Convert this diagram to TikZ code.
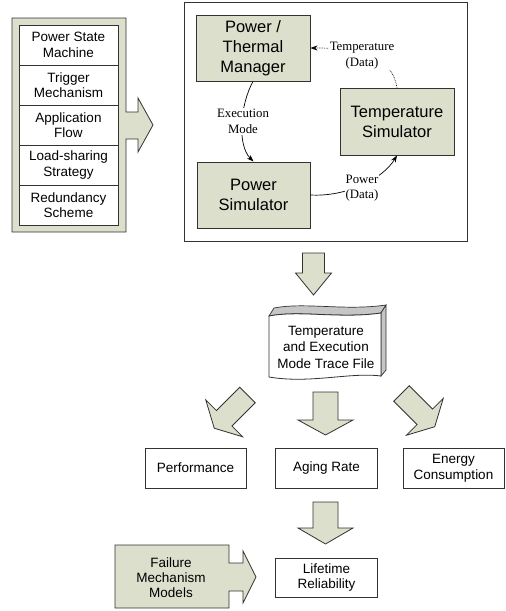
\documentclass[tikz,border=0pt]{standalone}
\usepackage{fontspec}
\setmainfont{Liberation Sans}
\newfontfamily\labelfont{Liberation Serif}
\usetikzlibrary{arrows.meta}
\definecolor{boxgreen}{RGB}{220,223,204}
\definecolor{edgegray}{RGB}{50,50,50}
\newcommand{\blockarr}[7]{% start, angle, shaft len, shaft w, head w, head len, dummy
\begin{scope}[shift={#1}, rotate=#2]
\filldraw[arrowshape] (0,-#4/2) -- (#3,-#4/2) -- (#3,-#5/2) -- (#3+#6,0) -- (#3,#5/2) -- (#3,#4/2) -- (0,#4/2) -- cycle;
\end{scope}}
\begin{document}
\begin{tikzpicture}[x=1pt,y=-1pt,
  arrowshape/.style={draw=edgegray, fill=boxgreen, line width=0.8pt, line join=miter},
  greenbox/.style={draw=edgegray, fill=boxgreen, line width=0.9pt, align=center, inner sep=0pt,
     font=\fontsize{16.5}{20}\selectfont},
  whitebox/.style={draw=edgegray, fill=white, line width=0.8pt, align=center, inner sep=0pt,
     font=\fontsize{13.5}{15.5}\selectfont},
  lbl/.style={fill=white, inner sep=1pt, align=center, font=\labelfont\fontsize{12.8}{15.5}\selectfont},
  conn/.style={line width=0.7pt, -{Stealth[length=7pt,width=5pt]}}
]
\useasboundingbox (0,0) rectangle (506,611);

% left panel with arrow
\filldraw[arrowshape] (12,18) -- (126,18) -- (126,112) -- (138,112) -- (138,98) -- (153,125)
  -- (138,152) -- (138,139) -- (126,139) -- (126,232) -- (12,232) -- cycle;
\node[whitebox, minimum width=99pt, minimum height=40pt] (psm) at (68.5,45) {Power State\\Machine};
\node[whitebox, minimum width=99pt, minimum height=40pt] (trig) at (68.5,85) {Trigger\\Mechanism};
\node[whitebox, minimum width=99pt, minimum height=40pt] (app) at (68.5,125) {Application\\Flow};
\node[whitebox, minimum width=99pt, minimum height=40pt] (load) at (68.5,165) {Load-sharing\\Strategy};
\node[whitebox, minimum width=99pt, minimum height=40pt] (red) at (68.5,205) {Redundancy\\Scheme};

% big box
\node[draw=edgegray, line width=0.8pt, minimum width=283pt, minimum height=239pt, inner sep=0pt] (sim) at (325.5,121.5) {};
\node[greenbox, minimum width=114pt, minimum height=66pt] (mgr) at (253,48) {Power /\\Thermal\\Manager};
\node[greenbox, minimum width=114pt, minimum height=67pt] (tsim) at (397,121.5) {Temperature\\Simulator};
\node[greenbox, minimum width=113pt, minimum height=66pt] (psim) at (253.5,195) {Power\\Simulator};

% connectors
\draw[conn] (mgr.south) .. controls (240,105) and (237,145) .. (psim.north);
\draw[conn] (psim.east) .. controls (345,197) and (382,180) .. (tsim.south);
\draw[conn, densely dotted] (tsim.north) .. controls (392,58) and (365,48) .. (mgr.east);
\node[lbl] (lexec) at (243,121.5) {Execution\\Mode};
\node[lbl] (lpow) at (362,188) {Power\\(Data)};
\node[lbl] (ltemp) at (362,55.5) {Temperature\\(Data)};

% arrow to trace
\blockarr{(313.5,253)}{-90}{20}{22}{36}{22}{}

% trace file
\filldraw[draw=edgegray, fill=gray!45, line width=0.7pt] (269,316) -- (274,308)
  .. controls (305,302) and (345,311) .. (386,305) -- (381,313)
  .. controls (340,319) and (300,310) .. (269,316) -- cycle;
\filldraw[draw=edgegray, fill=gray!45, line width=0.7pt] (381,313) -- (386,305) -- (386,370) -- (381,376) -- cycle;
\filldraw[draw=edgegray, fill=white, line width=0.8pt] (269,316)
  .. controls (300,310) and (340,319) .. (381,313) -- (381,376)
  .. controls (350,372) and (310,384) .. (269,377) -- cycle;
\node[align=center, inner sep=0pt, font=\fontsize{13.5}{16.5}\selectfont] (trace) at (326,347) {Temperature\\and Execution\\Mode Trace File};

% three arrows
\blockarr{(247.5,395)}{-135}{33}{22}{52}{14}{}
\blockarr{(325.5,392)}{-90}{28}{25}{55}{15}{}
\blockarr{(401.5,393.5)}{-45}{33}{22}{52}{14}{}

% result boxes
\node[whitebox, minimum width=101pt, minimum height=40pt] (perf) at (195.5,468) {Performance};
\node[whitebox, minimum width=102pt, minimum height=40pt] (aging) at (326.5,468) {Aging Rate};
\node[whitebox, minimum width=101pt, minimum height=40pt] (energy) at (453.5,468) {Energy\\Consumption};

% down arrow to lifetime
\blockarr{(325.5,502)}{-90}{26}{25}{55}{16}{}

% failure mechanism arrow
\filldraw[arrowshape] (115,545) -- (229,545) -- (229,563) -- (243,563) -- (243,551) -- (256,577)
  -- (243,603) -- (243,591) -- (229,591) -- (229,608) -- (115,608) -- cycle;
\node[align=center, inner sep=0pt, font=\fontsize{13.5}{15}\selectfont] (fail) at (171,577.5) {Failure\\Mechanism\\Models};

\node[whitebox, minimum width=102pt, minimum height=39pt, font=\fontsize{13.5}{14.5}\selectfont] (life) at (326.5,577.5) {Lifetime\\Reliability};
\end{tikzpicture}
\end{document}
